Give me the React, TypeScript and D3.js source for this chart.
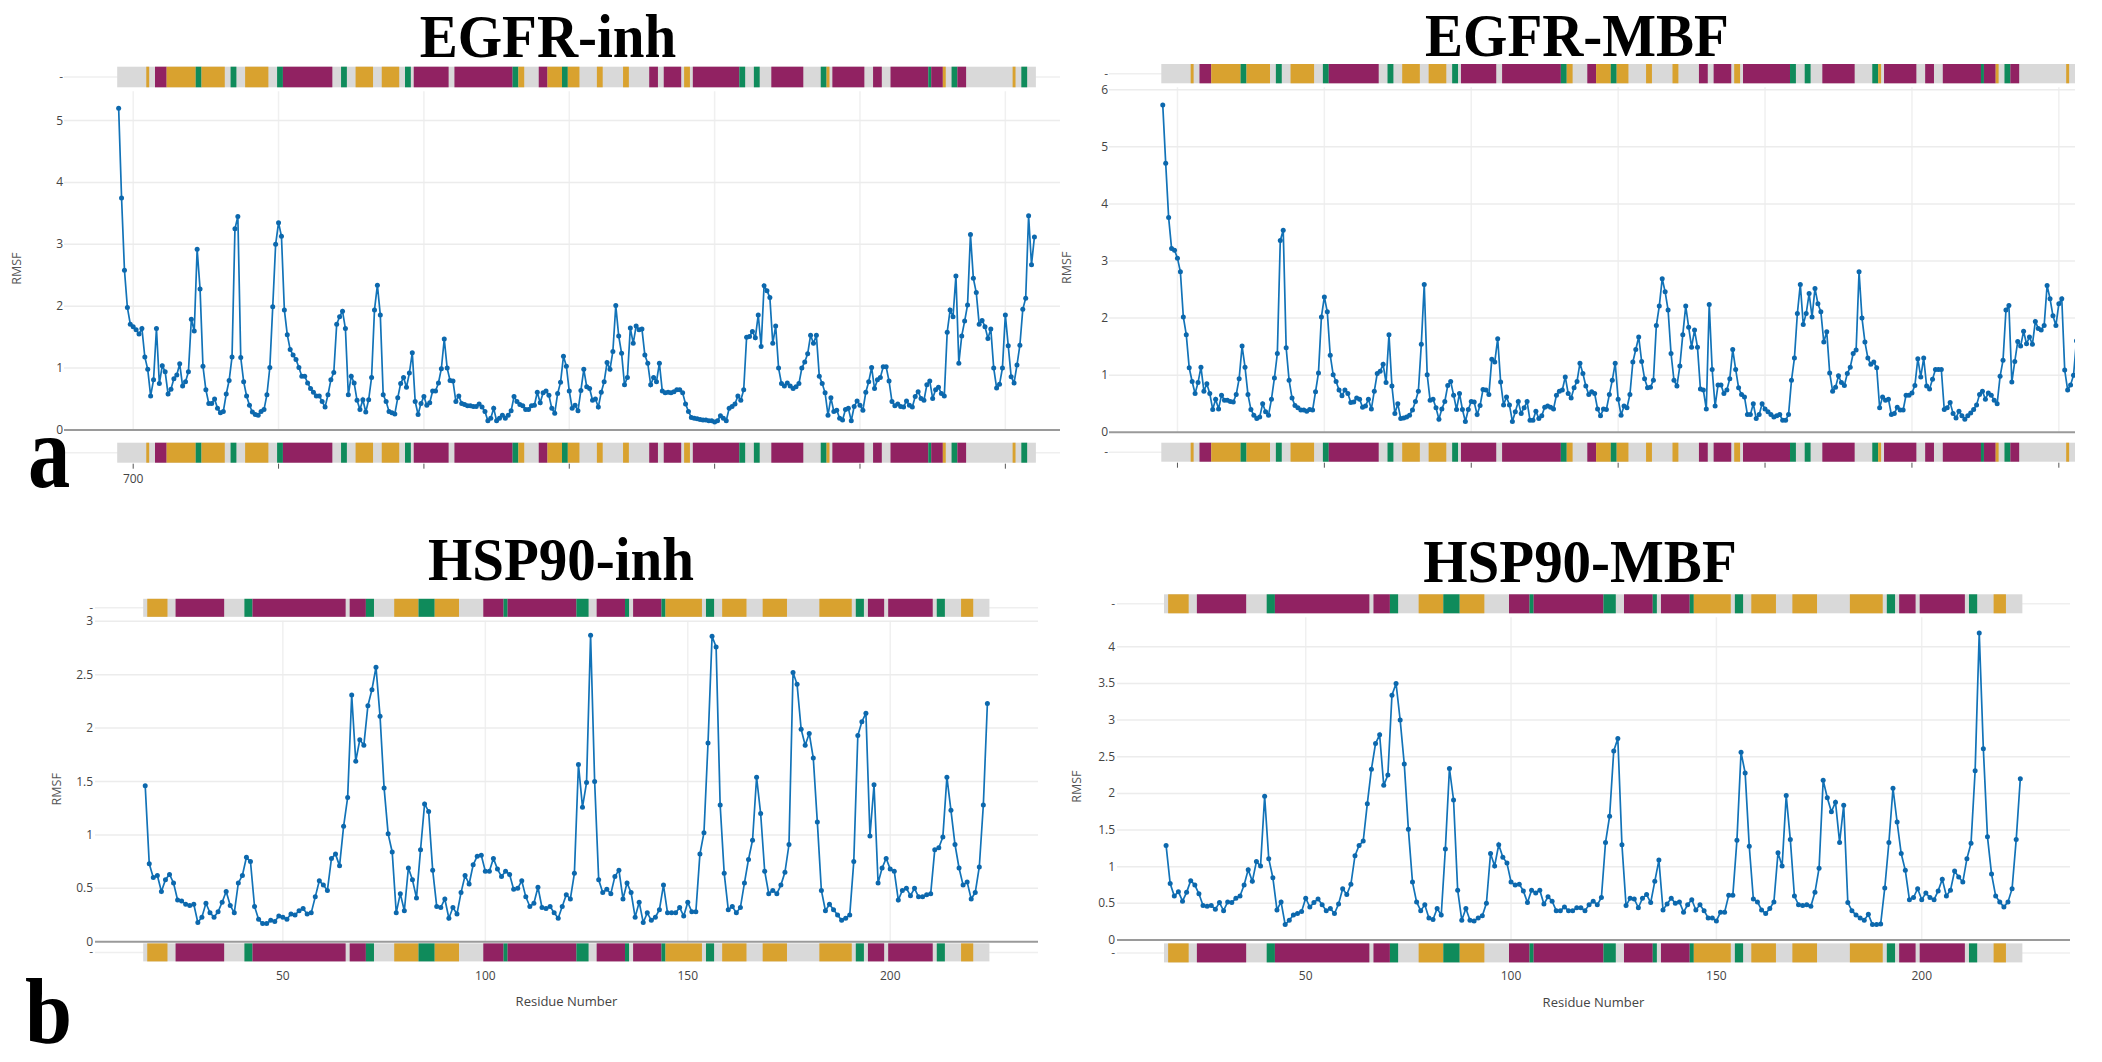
import React from 'react';
import * as d3 from 'd3';

// RMSF per residue
const egfrStart = 695;
const egfrInhRmsf = [
  5.20, 3.75, 2.58, 1.98, 1.71, 1.67, 1.62, 1.55, 1.64, 1.18,
  0.98, 0.55, 0.81, 1.64, 0.75, 1.04, 0.94, 0.58, 0.66, 0.83,
  0.89, 1.07, 0.71, 0.78, 0.94, 1.79, 1.60, 2.92, 2.28, 1.03,
  0.65, 0.43, 0.43, 0.50, 0.35, 0.28, 0.30, 0.58, 0.80, 1.18,
  3.25, 3.45, 1.17, 0.78, 0.55, 0.40, 0.29, 0.25, 0.24, 0.30,
  0.33, 0.57, 1.01, 1.99, 3.00, 3.35, 3.13, 1.94, 1.54, 1.30,
  1.21, 1.14, 1.01, 0.87, 0.87, 0.76, 0.67, 0.61, 0.55, 0.55,
  0.46, 0.37, 0.57, 0.81, 0.93, 1.71, 1.83, 1.92, 1.64, 0.57,
  0.87, 0.76, 0.48, 0.33, 0.49, 0.29, 0.49, 0.85, 1.94, 2.34,
  1.86, 0.57, 0.46, 0.30, 0.28, 0.26, 0.52, 0.75, 0.85, 0.69,
  0.92, 1.25, 0.46, 0.25, 0.43, 0.54, 0.40, 0.44, 0.63, 0.63,
  0.76, 0.99, 1.47, 1.00, 0.80, 0.79, 0.46, 0.55, 0.43, 0.41,
  0.39, 0.39, 0.38, 0.38, 0.42, 0.37, 0.30, 0.15, 0.19, 0.35,
  0.15, 0.19, 0.24, 0.19, 0.24, 0.31, 0.54, 0.46, 0.41, 0.39,
  0.33, 0.33, 0.39, 0.40, 0.61, 0.44, 0.60, 0.63, 0.56, 0.35,
  0.27, 0.59, 0.77, 1.19, 1.03, 0.63, 0.35, 0.40, 0.31, 0.64,
  0.98, 0.70, 0.67, 0.48, 0.50, 0.37, 0.61, 0.78, 1.09, 0.98,
  1.27, 2.01, 1.52, 1.24, 0.73, 0.85, 1.65, 1.40, 1.68, 1.62,
  1.63, 1.21, 1.08, 0.73, 0.85, 0.78, 1.08, 0.63, 0.60, 0.61,
  0.60, 0.62, 0.65, 0.65, 0.60, 0.42, 0.30, 0.20, 0.19, 0.18,
  0.17, 0.16, 0.16, 0.15, 0.15, 0.13, 0.15, 0.23, 0.19, 0.15,
  0.35, 0.38, 0.42, 0.55, 0.48, 0.65, 1.50, 1.51, 1.59, 1.49,
  1.86, 1.35, 2.33, 2.25, 2.14, 1.40, 1.68, 1.00, 0.75, 0.71,
  0.76, 0.71, 0.67, 0.70, 0.75, 1.00, 1.10, 1.23, 1.53, 1.40,
  1.53, 0.87, 0.75, 0.60, 0.24, 0.52, 0.30, 0.32, 0.19, 0.16,
  0.33, 0.35, 0.15, 0.38, 0.47, 0.40, 0.32, 0.61, 0.78, 1.01,
  0.67, 0.81, 0.85, 1.02, 1.02, 0.79, 0.46, 0.39, 0.42, 0.38,
  0.37, 0.47, 0.40, 0.37, 0.54, 0.62, 0.51, 0.48, 0.73, 0.79,
  0.51, 0.65, 0.69, 0.59, 0.55, 1.58, 1.94, 1.83, 2.49, 1.08,
  1.52, 1.76, 2.02, 3.16, 2.45, 2.22, 1.71, 1.77, 1.67, 1.48,
  1.63, 1.00, 0.68, 0.74, 1.00, 1.86, 1.36, 0.86, 0.76, 1.05,
  1.37, 1.95, 2.13, 3.46, 2.67, 3.12,
];
const egfrMbfRmsf = [
  5.73, 4.71, 3.76, 3.22, 3.19, 3.05, 2.81, 2.02, 1.71, 1.13,
  0.89, 0.68, 0.87, 1.14, 0.72, 0.85, 0.68, 0.40, 0.58, 0.41,
  0.65, 0.56, 0.56, 0.54, 0.53, 0.66, 0.94, 1.51, 1.14, 0.66,
  0.40, 0.30, 0.24, 0.27, 0.50, 0.36, 0.30, 0.58, 0.95, 1.38,
  3.36, 3.54, 1.48, 0.91, 0.60, 0.47, 0.43, 0.39, 0.39, 0.37,
  0.40, 0.39, 0.71, 1.04, 2.02, 2.37, 2.11, 1.35, 1.01, 0.89,
  0.74, 0.64, 0.74, 0.68, 0.52, 0.53, 0.60, 0.58, 0.44, 0.46,
  0.58, 0.41, 0.72, 1.03, 1.07, 1.19, 0.87, 1.71, 0.81, 0.33,
  0.50, 0.24, 0.25, 0.27, 0.30, 0.39, 0.54, 0.72, 1.54, 2.59,
  1.01, 0.56, 0.58, 0.43, 0.23, 0.41, 0.54, 0.82, 0.89, 0.65,
  0.40, 0.68, 0.40, 0.19, 0.40, 0.54, 0.53, 0.31, 0.47, 0.75,
  0.74, 0.66, 1.28, 1.23, 1.64, 0.88, 0.48, 0.62, 0.48, 0.19,
  0.36, 0.54, 0.33, 0.43, 0.54, 0.21, 0.21, 0.37, 0.24, 0.29,
  0.44, 0.46, 0.44, 0.41, 0.65, 0.72, 0.74, 0.97, 0.68, 0.60,
  0.78, 0.89, 1.21, 1.03, 0.81, 0.66, 0.71, 0.68, 0.41, 0.29,
  0.41, 0.40, 0.66, 0.91, 1.21, 0.58, 0.30, 0.46, 0.43, 0.66,
  1.23, 1.45, 1.67, 1.24, 0.94, 0.78, 0.79, 0.91, 1.87, 2.21,
  2.69, 2.46, 2.14, 1.38, 0.91, 0.81, 1.16, 1.71, 2.21, 1.84,
  1.49, 1.79, 1.49, 0.76, 0.74, 0.41, 2.24, 1.10, 0.46, 0.83,
  0.83, 0.68, 0.74, 0.94, 1.45, 1.10, 0.78, 0.66, 0.62, 0.31,
  0.31, 0.50, 0.24, 0.31, 0.50, 0.41, 0.36, 0.31, 0.27, 0.29,
  0.31, 0.21, 0.21, 0.31, 0.91, 1.30, 2.08, 2.59, 1.89, 2.08,
  2.43, 2.02, 2.52, 2.25, 2.11, 1.58, 1.76, 1.04, 0.72, 0.79,
  0.99, 0.87, 0.82, 1.03, 1.14, 1.38, 1.44, 2.81, 2.00, 1.58,
  1.30, 1.19, 1.23, 1.13, 0.43, 0.62, 0.56, 0.58, 0.31, 0.33,
  0.44, 0.39, 0.39, 0.65, 0.65, 0.69, 0.82, 1.29, 0.97, 1.30,
  0.81, 0.76, 0.93, 1.10, 1.10, 1.10, 0.40, 0.43, 0.52, 0.33,
  0.25, 0.37, 0.29, 0.23, 0.29, 0.34, 0.40, 0.48, 0.66, 0.72,
  0.58, 0.69, 0.65, 0.56, 0.50, 0.98, 1.26, 2.14, 2.22, 0.88,
  1.24, 1.59, 1.51, 1.77, 1.55, 1.67, 1.54, 1.94, 1.82, 1.79,
  1.87, 2.57, 2.34, 2.04, 1.87, 2.25, 2.34, 1.09, 0.74, 0.83,
  1.00, 1.60,
];

const hspStart = 16;
const hspInhRmsf = [
  1.46, 0.73, 0.60, 0.62, 0.47, 0.58, 0.63, 0.55, 0.39, 0.38,
  0.35, 0.34, 0.35, 0.18, 0.23, 0.36, 0.27, 0.23, 0.28, 0.37,
  0.47, 0.34, 0.27, 0.55, 0.62, 0.79, 0.75, 0.33, 0.21, 0.17,
  0.17, 0.20, 0.19, 0.24, 0.23, 0.21, 0.26, 0.25, 0.29, 0.31,
  0.26, 0.27, 0.42, 0.57, 0.53, 0.48, 0.78, 0.82, 0.71, 1.08,
  1.35, 2.31, 1.69, 1.89, 1.84, 2.21, 2.36, 2.57, 2.11, 1.44,
  1.01, 0.84, 0.27, 0.45, 0.29, 0.69, 0.58, 0.41, 0.86, 1.29,
  1.22, 0.67, 0.33, 0.32, 0.40, 0.22, 0.32, 0.26, 0.46, 0.62,
  0.54, 0.72, 0.80, 0.81, 0.66, 0.66, 0.78, 0.68, 0.61, 0.66,
  0.63, 0.49, 0.50, 0.57, 0.42, 0.33, 0.36, 0.51, 0.32, 0.31,
  0.33, 0.27, 0.22, 0.33, 0.44, 0.40, 0.64, 1.66, 1.26, 1.49,
  2.87, 1.50, 0.58, 0.46, 0.49, 0.45, 0.61, 0.67, 0.40, 0.55,
  0.46, 0.23, 0.37, 0.18, 0.27, 0.20, 0.23, 0.30, 0.53, 0.27,
  0.27, 0.27, 0.32, 0.24, 0.37, 0.28, 0.28, 0.82, 1.02, 1.86,
  2.86, 2.76, 1.28, 0.64, 0.30, 0.33, 0.27, 0.32, 0.55, 0.77,
  0.95, 1.54, 1.20, 0.66, 0.45, 0.48, 0.45, 0.53, 0.65, 0.91,
  2.52, 2.41, 1.99, 1.84, 1.95, 1.72, 1.12, 0.48, 0.29, 0.35,
  0.30, 0.25, 0.20, 0.22, 0.25, 0.75, 1.93, 2.06, 2.14, 0.99,
  1.47, 0.55, 0.69, 0.78, 0.68, 0.66, 0.39, 0.48, 0.50, 0.43,
  0.50, 0.42, 0.42, 0.44, 0.45, 0.86, 0.88, 0.98, 1.54, 1.23,
  0.91, 0.69, 0.53, 0.56, 0.40, 0.46, 0.70, 1.28, 2.23,
];
const hspMbfRmsf = [
  1.29, 0.77, 0.60, 0.66, 0.53, 0.65, 0.81, 0.75, 0.63, 0.47,
  0.46, 0.47, 0.42, 0.51, 0.40, 0.52, 0.51, 0.57, 0.60, 0.75,
  0.96, 0.80, 1.07, 1.01, 1.96, 1.11, 0.85, 0.41, 0.52, 0.21,
  0.27, 0.34, 0.36, 0.39, 0.57, 0.45, 0.51, 0.56, 0.48, 0.40,
  0.43, 0.36, 0.49, 0.70, 0.62, 0.76, 1.15, 1.29, 1.35, 1.86,
  2.33, 2.68, 2.80, 2.11, 2.25, 3.34, 3.50, 3.00, 2.40, 1.51,
  0.79, 0.52, 0.40, 0.48, 0.30, 0.28, 0.43, 0.34, 1.24, 2.34,
  1.91, 0.68, 0.27, 0.43, 0.27, 0.26, 0.30, 0.33, 0.50, 1.18,
  1.01, 1.30, 1.13, 1.05, 0.79, 0.75, 0.76, 0.67, 0.51, 0.68,
  0.64, 0.68, 0.49, 0.59, 0.53, 0.40, 0.40, 0.45, 0.40, 0.40,
  0.44, 0.44, 0.40, 0.48, 0.53, 0.48, 0.58, 1.33, 1.69, 2.58,
  2.75, 1.30, 0.47, 0.57, 0.56, 0.44, 0.57, 0.62, 0.51, 0.80,
  1.09, 0.41, 0.49, 0.57, 0.50, 0.52, 0.38, 0.48, 0.55, 0.41,
  0.48, 0.40, 0.30, 0.30, 0.26, 0.38, 0.38, 0.61, 0.61, 1.36,
  2.56, 2.28, 1.28, 0.56, 0.52, 0.41, 0.36, 0.43, 0.52, 1.19,
  1.01, 1.97, 1.37, 0.60, 0.48, 0.47, 0.48, 0.46, 0.65, 0.98,
  2.18, 1.94, 1.75, 1.88, 1.33, 1.84, 0.51, 0.40, 0.34, 0.30,
  0.27, 0.35, 0.21, 0.21, 0.22, 0.71, 1.33, 2.07, 1.61, 1.18,
  0.95, 0.55, 0.58, 0.70, 0.55, 0.64, 0.58, 0.55, 0.67, 0.83,
  0.60, 0.68, 0.94, 0.86, 0.79, 1.11, 1.32, 2.31, 4.19, 2.61,
  1.41, 0.90, 0.60, 0.52, 0.45, 0.52, 0.70, 1.37, 2.20,
];

// secondary structure: [first residue, last residue, type] H = helix, E = strand, T = turn
const egfrSS: [number, number, string][] = [
  [705, 705, 'E'], [708, 711, 'H'], [712, 721, 'E'], [722, 723, 'T'], [724, 731, 'E'],
  [734, 735, 'T'], [739, 746, 'E'], [750, 751, 'T'], [752, 768, 'H'], [772, 773, 'T'],
  [777, 782, 'E'], [786, 791, 'E'], [794, 795, 'T'], [797, 808, 'H'], [811, 830, 'H'],
  [831, 832, 'T'], [833, 834, 'E'], [840, 842, 'H'], [843, 847, 'E'], [848, 849, 'T'],
  [850, 853, 'E'], [860, 861, 'E'], [869, 870, 'E'], [878, 880, 'H'], [883, 888, 'H'],
  [890, 891, 'E'], [893, 908, 'H'], [909, 910, 'T'], [914, 915, 'T'], [920, 930, 'H'],
  [937, 938, 'T'], [939, 939, 'E'], [941, 951, 'H'], [955, 957, 'H'], [961, 973, 'H'],
  [974, 974, 'T'], [975, 978, 'H'], [979, 979, 'E'], [982, 983, 'T'], [984, 986, 'H'],
  [1003, 1003, 'E'], [1006, 1007, 'T'],
];
const hspSS: [number, number, string][] = [
  [17, 21, 'E'], [24, 35, 'H'], [41, 42, 'T'], [43, 65, 'H'], [67, 70, 'H'], [71, 72, 'T'],
  [78, 83, 'E'], [84, 87, 'T'], [88, 93, 'E'], [100, 104, 'H'], [105, 105, 'T'],
  [106, 122, 'H'], [123, 125, 'T'], [128, 134, 'H'], [135, 135, 'T'], [137, 143, 'H'],
  [144, 144, 'T'], [145, 153, 'E'], [155, 156, 'T'], [159, 164, 'E'], [169, 174, 'E'],
  [183, 190, 'E'], [192, 193, 'T'], [195, 198, 'H'], [200, 210, 'H'], [212, 213, 'T'],
  [218, 220, 'E'],
];

const egfrTicksX = [700, 750, 800, 850, 900, 950, 1000];
const egfrTickLabelsX = ['700'];
const hspTicksX = [50, 100, 150, 200];
const hspTickLabelsX = ['50', '100', '150', '200'];
const egfrInhTicksY = [0, 1, 2, 3, 4, 5];
const egfrMbfTicksY = [0, 1, 2, 3, 4, 5, 6];
const hspInhTicksY = [0, 0.5, 1, 1.5, 2, 2.5, 3];
const hspMbfTicksY = [0, 0.5, 1, 1.5, 2, 2.5, 3, 3.5, 4];

const ssColor: Record<string, string> = { H: '#912262', E: '#d9a22f', T: '#0f8b5b' };
const lineColor = '#1273b8';
const axisFont = '"Open Sans", "DejaVu Sans", sans-serif';
const serif = '"Liberation Serif", "Times New Roman", serif';

type PanelProps = {
  id: string;
  title: string;
  titleX: number;
  titleY: number;
  values: number[];
  start: number;
  last: number;
  ss: [number, number, string][];
  xDomain: [number, number];
  xRange: [number, number];
  yDomain: [number, number];
  yRange: [number, number];
  yTicks: number[];
  xTicks: number[];
  xTickLabels: string[];
  topBar: [number, number];
  botBar: [number, number];
  tickLabelX: number;
  xLabelY: number;
  tickMarks: boolean;
  rmsfX: number;
  xTitleY?: number;
  hideBotDash?: boolean;
};

const Panel: React.FC<PanelProps> = (p) => {
  const x = d3.scaleLinear().domain(p.xDomain).range(p.xRange);
  const y = d3.scaleLinear().domain(p.yDomain).range(p.yRange);
  const pts = p.values.map((v, i) => ({ r: p.start + i, v }));
  const line = d3.line<{ r: number; v: number }>().x((d) => x(d.r)).y((d) => y(d.v));
  const [left, right] = p.xRange;
  const y0 = y(0);
  const bars = (yy: [number, number], key: string, dash: boolean) => (
    <g key={key}>
      <line x1={left} x2={right} y1={(yy[0] + yy[1]) / 2} y2={(yy[0] + yy[1]) / 2} stroke="#efefef" strokeWidth={1.5} />
      {dash && (
        <text x={p.tickLabelX} y={(yy[0] + yy[1]) / 2 + 4} textAnchor="end" fontSize={12} fill="#555" fontFamily={axisFont}>-</text>
      )}
      <g clipPath={`url(#clip-${p.id})`}>
        <rect x={x(p.start - 0.5)} width={x(p.last + 0.5) - x(p.start - 0.5)} y={yy[0]} height={yy[1] - yy[0]} fill="#d9d9d9" />
        {p.ss.map(([s, e, t], i) => (
          <rect key={i} x={x(s - 0.5)} width={x(e + 0.5) - x(s - 0.5)} y={yy[0]} height={yy[1] - yy[0]} fill={ssColor[t]} />
        ))}
      </g>
    </g>
  );
  return (
    <g>
      <defs>
        <clipPath id={`clip-${p.id}`}>
          <rect x={left} y={0} width={right - left} height={1062} />
        </clipPath>
      </defs>
      <text transform={`translate(${p.titleX},${p.titleY}) scale(1,1.06)`} textAnchor="middle" fontSize={57}
        fontWeight="bold" fontFamily={serif} fill="#000">{p.title}</text>
      {/* gridlines */}
      {p.xTicks.map((t) => (
        <line key={'vx' + t} x1={x(t)} x2={x(t)} y1={p.topBar[1] + 4} y2={y0} stroke="#f0f0f0" strokeWidth={1.5} />
      ))}
      {p.yTicks.filter((t) => t > 0).map((t) => (
        <line key={'gy' + t} x1={left} x2={right} y1={y(t)} y2={y(t)} stroke="#ececec" strokeWidth={1.5} />
      ))}
      {p.yTicks.map((t) => (
        <text key={'ty' + t} x={p.tickLabelX} y={y(t) + 4} textAnchor="end" fontSize={12} fill="#444" fontFamily={axisFont}>{String(t)}</text>
      ))}
      <line x1={left} x2={right} y1={y0} y2={y0} stroke="#9a9a9a" strokeWidth={2} />
      {bars(p.topBar, 'top', true)}
      {bars(p.botBar, 'bot', !p.hideBotDash)}
      {p.tickMarks && p.xTicks.map((t) => (
        <line key={'tm' + t} x1={x(t)} x2={x(t)} y1={p.botBar[1] + 1} y2={p.botBar[1] + 6} stroke="#555" strokeWidth={1} />
      ))}
      {p.xTicks.map((t, i) => p.xTickLabels[i] ? (
        <text key={'tx' + t} x={x(t)} y={p.xLabelY} textAnchor="middle" fontSize={12} fill="#444" fontFamily={axisFont}>{p.xTickLabels[i]}</text>
      ) : null)}
      {p.xTitleY !== undefined && (
        <text x={(left + right) / 2} y={p.xTitleY} textAnchor="middle" fontSize={13} fill="#444" fontFamily={axisFont}>Residue Number</text>
      )}
      <text transform={`translate(${p.rmsfX},${(y0 + p.topBar[1]) / 2 + 10}) rotate(-90)`} textAnchor="middle" fontSize={12.5} fill="#555" fontFamily={axisFont}>RMSF</text>
      <g clipPath={`url(#clip-${p.id})`}>
        <path d={line(pts) || ''} fill="none" stroke={lineColor} strokeWidth={1.7} />
        {pts.map((d) => (
          <circle key={d.r} cx={x(d.r)} cy={y(d.v)} r={2.5} fill="#0c68ad" />
        ))}
      </g>
    </g>
  );
};

export default function App() {
  return (
    <svg width={2102} height={1062} style={{ position: 'absolute', left: 0, top: 0, display: 'block', background: '#fff' }}>
      <rect width={2102} height={1062} fill="#fff" />
      <Panel id="ei" title="EGFR-inh" titleX={548} titleY={57} values={egfrInhRmsf} start={egfrStart}
        last={egfrStart + egfrInhRmsf.length - 1} ss={egfrSS}
        xDomain={[676.2, 1018.8]} xRange={[64, 1060]} yDomain={[0, 5.5]} yRange={[430, 89.6]}
        yTicks={egfrInhTicksY} xTicks={egfrTicksX} xTickLabels={egfrTickLabelsX}
        topBar={[66.7, 87.3]} botBar={[442.7, 462.7]} tickLabelX={63} xLabelY={483} tickMarks rmsfX={21}
        hideBotDash />
      <Panel id="em" title="EGFR-MBF" titleX={1577} titleY={56} values={egfrMbfRmsf} start={egfrStart}
        last={1010} ss={egfrSS}
        xDomain={[676.7, 1005.5]} xRange={[1109, 2075]} yDomain={[0, 6]} yRange={[432.3, 89.7]}
        yTicks={egfrMbfTicksY} xTicks={egfrTicksX} xTickLabels={[]}
        topBar={[64, 83.3]} botBar={[442.7, 461.7]} tickLabelX={1108} xLabelY={483} tickMarks rmsfX={1071} />
      <Panel id="hi" title="HSP90-inh" titleX={561} titleY={580} values={hspInhRmsf} start={hspStart}
        last={224} ss={hspSS}
        xDomain={[3.6, 236.5]} xRange={[95, 1038]} yDomain={[0, 3]} yRange={[941.7, 621.3]}
        yTicks={hspInhTicksY} xTicks={hspTicksX} xTickLabels={hspTickLabelsX}
        topBar={[598.8, 616.8]} botBar={[943.4, 961.4]} tickLabelX={93} xLabelY={980} tickMarks={false}
        rmsfX={61} xTitleY={1006} />
      <Panel id="hm" title="HSP90-MBF" titleX={1580} titleY={582} values={hspMbfRmsf} start={hspStart}
        last={224} ss={hspSS}
        xDomain={[4.05, 236.1]} xRange={[1117, 2070]} yDomain={[0, 4.25]} yRange={[940, 628.5]}
        yTicks={hspMbfTicksY} xTicks={hspTicksX} xTickLabels={hspTickLabelsX}
        topBar={[594.3, 613.3]} botBar={[943.4, 962.4]} tickLabelX={1115} xLabelY={980} tickMarks={false}
        rmsfX={1081} xTitleY={1007} />
      <text transform="translate(28,487) scale(0.88,1.08)" fontSize={96} fontWeight="bold" fontFamily={serif}>a</text>
      <text transform="translate(25,1043) scale(0.92,1.02)" fontSize={92} fontWeight="bold" fontFamily={serif}>b</text>
    </svg>
  );
}
